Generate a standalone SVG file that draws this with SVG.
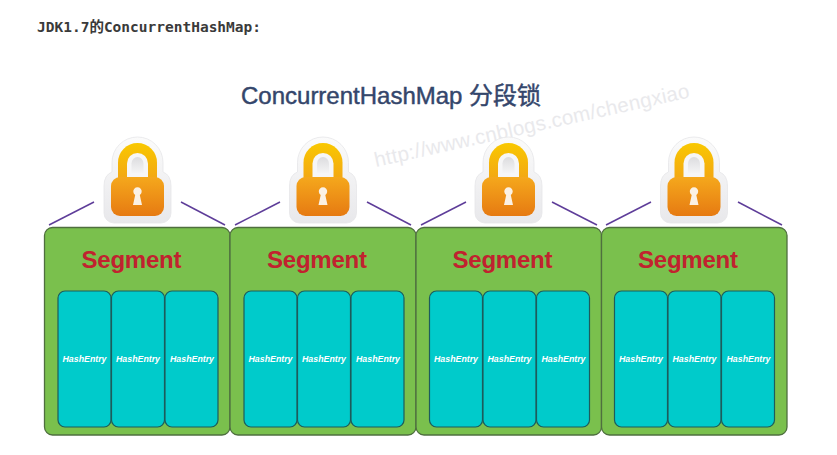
<svg xmlns="http://www.w3.org/2000/svg" xmlns:xlink="http://www.w3.org/1999/xlink" width="837" height="455" viewBox="0 0 837 455">
<style>
text{font-family:"Liberation Sans","Noto Sans CJK SC",sans-serif}
.head{font-family:"DejaVu Sans Mono","Noto Sans CJK SC",monospace;font-weight:700;font-size:14.5px;fill:#3a3a3a}
.title{font-size:24px;font-weight:400;fill:#34466b;stroke:#34466b;stroke-width:.45}
.mark{font-size:20.5px;fill:#e9e9ec}
.seg{fill:#7ac04d;stroke:#4f6f3f;stroke-width:1.3}
.entry{fill:#00cbcb;stroke:#1d5c5c;stroke-width:1.2}
.st{font-size:24px;font-weight:700;fill:#c1222f;text-anchor:middle}
.et{font-size:8.800px;font-weight:700;font-style:italic;fill:#fff;text-anchor:middle}
.conn line{stroke:#5e3d99;stroke-width:1.5}
</style>
<defs>
<linearGradient id="lockBody" x1="0" y1="0" x2="0" y2="1"><stop offset="0" stop-color="#f5a81c"/><stop offset="1" stop-color="#e67a12"/></linearGradient>
<linearGradient id="lockShackle" x1="0" y1="0" x2="0" y2="1"><stop offset="0" stop-color="#f9c800"/><stop offset="1" stop-color="#f3a714"/></linearGradient>
<linearGradient id="lockHalo" x1="0" y1="0" x2="0" y2="1"><stop offset="0" stop-color="#fbfbfb"/><stop offset="1" stop-color="#e8e8eb"/></linearGradient>
<linearGradient id="lockArch" x1="0" y1="0" x2="0" y2="1"><stop offset="0" stop-color="#dcdcdf"/><stop offset="1" stop-color="#f4f4f5"/></linearGradient>
<g id="lock">
<path d="M-25.500 27.500a25.500 25.500 0 0 1 51 0V37q8 3 8 14V78a10 10 0 0 1-10 10H-23.500a10 10 0 0 1-10-10V51q0-11 8-14z" fill="url(#lockHalo)" stroke="#e6e6e9" stroke-width=".8"/>
<path d="M-19.500 44V27.500a19.500 19.500 0 0 1 39 0V44z" fill="url(#lockShackle)"/>
<path d="M-10.500 44V28.500a10.500 10.500 0 0 1 21 0V44z" fill="#f6f6f7"/>
<path d="M-6 38V28.500a6 6.500 0 0 1 12 0V38z" fill="url(#lockArch)"/>
<rect x="-26.500" y="42" width="53" height="39" rx="9" fill="url(#lockBody)"/>
<path d="M-4.500 70l2.200-10a4.200 4.200 0 1 1 4.600 0l2.200 10z" fill="#fbf1e4"/>
</g>
<g id="entries">
<rect class="entry" x="14" y="63.500" width="53" height="136" rx="7"/>
<rect class="entry" x="67.500" y="63.500" width="53" height="136" rx="7"/>
<rect class="entry" x="121" y="63.500" width="53" height="136" rx="7"/>
<text class="et" x="40.500" y="134.500">HashEntry</text>
<text class="et" x="94" y="134.500">HashEntry</text>
<text class="et" x="148" y="134.500">HashEntry</text>
</g>
</defs>
<rect width="837" height="455" fill="#fff"/>
<text class="head" x="37" y="32">JDK1.7的ConcurrentHashMap:</text>
<text class="title" x="241" y="104">ConcurrentHashMap 分段锁</text>
<text class="mark" transform="translate(376,167) rotate(-12.500)" textLength="322">http://www.cnblogs.com/chengxiao</text>
<g id="connectors" class="conn">
<line x1="49" y1="225" x2="94" y2="202"/><line x1="181" y1="202" x2="225" y2="225"/>
<line x1="235" y1="225" x2="280" y2="202"/><line x1="367" y1="202" x2="411" y2="225"/>
<line x1="421" y1="225" x2="466" y2="202"/><line x1="552" y1="202" x2="597" y2="225"/>
<line x1="606" y1="225" x2="651" y2="202"/><line x1="738" y1="202" x2="782" y2="225"/>
</g>
<g id="lock1"><use href="#lock" x="137.500" y="135"/></g>
<g id="lock2"><use href="#lock" x="323" y="135"/></g>
<g id="lock3"><use href="#lock" x="508.500" y="135"/></g>
<g id="lock4"><use href="#lock" x="694" y="135"/></g>
<g id="segment1" transform="translate(44.500,227.500)"><rect class="seg" width="185.500" height="207.500" rx="8"/><text class="st" x="87" y="40" textLength="100">Segment</text><use href="#entries" x="-.500"/></g>
<g id="segment2" transform="translate(230,227.500)"><rect class="seg" width="186" height="207.500" rx="8"/><text class="st" x="87" y="40" textLength="100">Segment</text><use href="#entries"/></g>
<g id="segment3" transform="translate(416,227.500)"><rect class="seg" width="185.500" height="207.500" rx="8"/><text class="st" x="86.500" y="40" textLength="100">Segment</text><use href="#entries" x="-.500"/></g>
<g id="segment4" transform="translate(601.500,227.500)"><rect class="seg" width="185.500" height="207.500" rx="8"/><text class="st" x="86.500" y="40" textLength="100">Segment</text><use href="#entries" x="-1"/></g>
</svg>
